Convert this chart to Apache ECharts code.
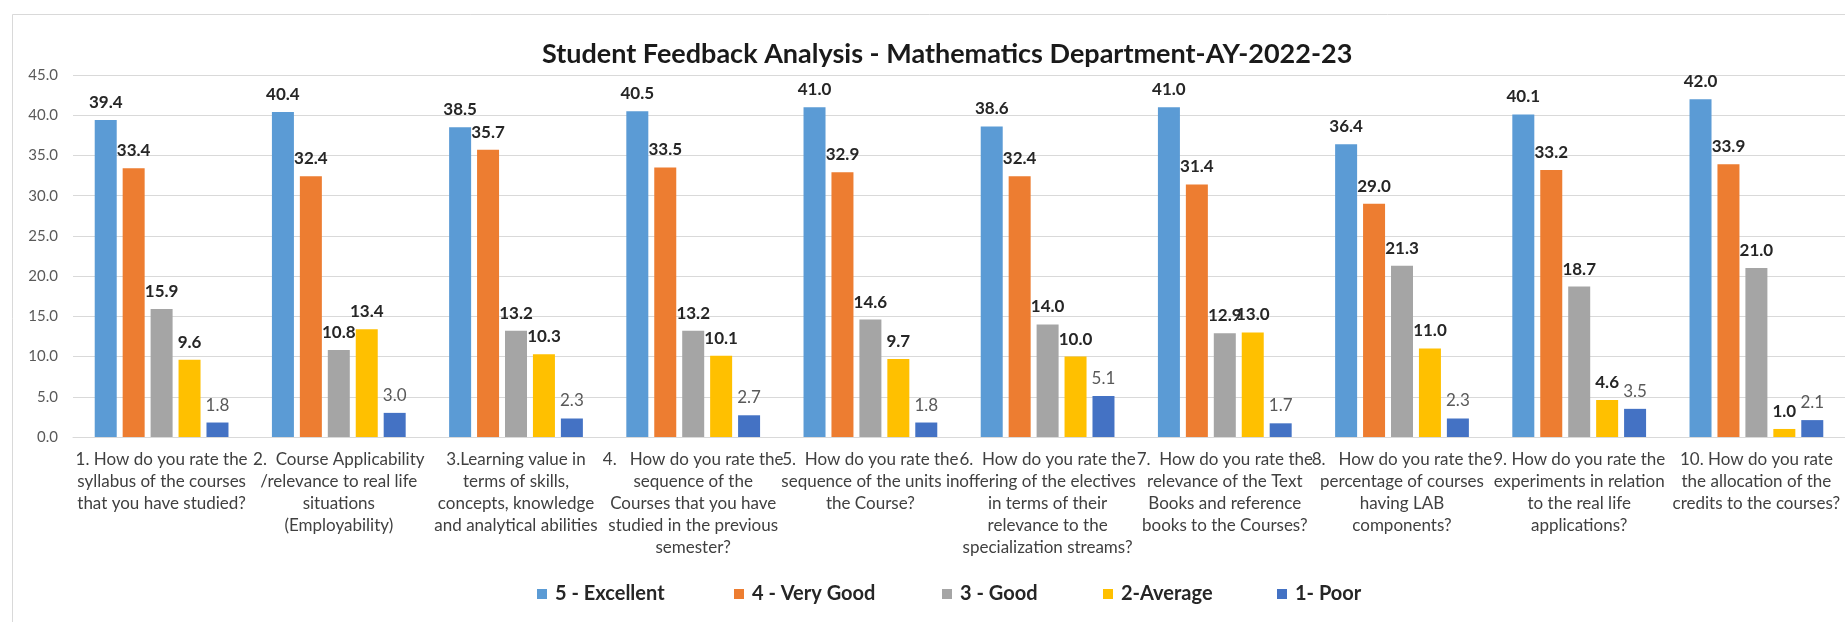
<!DOCTYPE html>
<html><head><meta charset="utf-8">
<script src="https://cdn.jsdelivr.net/npm/echarts@6/dist/echarts.min.js"></script>
<style>html,body{margin:0;padding:0;background:#fff}#c{width:1845px;height:622px}</style>
</head><body><div id="c"></div>
<script>
const categories = [
  "1. How do you rate the\nsyllabus of the courses\nthat you have studied?",
  "2.  Course Applicability\n/relevance to real life\nsituations\n(Employability)",
  "3.Learning value in\nterms of skills,\nconcepts, knowledge\nand analytical abilities",
  "4.   How do you rate the\nsequence of the\nCourses that you have\nstudied in the previous\nsemester?",
  "5.  How do you rate the\nsequence of the units in\nthe Course?",
  "6.  How do you rate the\noffering of the electives\nin terms of their\nrelevance to the\nspecialization streams?",
  "7.  How do you rate the\nrelevance of the Text\nBooks and reference\nbooks to the Courses?",
  "8.   How do you rate the\npercentage of courses\nhaving LAB\ncomponents?",
  "9. How do you rate the\nexperiments in relation\nto the real life\napplications?",
  "10. How do you rate\nthe allocation of the\ncredits to the courses?"
];
const seriesNames = ["5 - Excellent", "4 - Very Good", "3 - Good", "2-Average", "1- Poor"];
const excellent = [39.4, 40.4, 38.5, 40.5, 41.0, 38.6, 41.0, 36.4, 40.1, 42.0];
const veryGood  = [33.4, 32.4, 35.7, 33.5, 32.9, 32.4, 31.4, 29.0, 33.2, 33.9];
const good      = [15.9, 10.8, 13.2, 13.2, 14.6, 14.0, 12.9, 21.3, 18.7, 21.0];
const average   = [9.6, 13.4, 10.3, 10.1, 9.7, 10.0, 13.0, 11.0, 4.6, 1.0];
const poor      = [1.8, 3.0, 2.3, 2.7, 1.8, 5.1, 1.7, 2.3, 3.5, 2.1];
const yTicks = [0, 45, 5];

const colors = ["#5B9BD5", "#ED7D31", "#A5A5A5", "#FFC000", "#4472C4"];
const FONT = "Lato, 'Noto Sans', sans-serif";
const allData = [excellent, veryGood, good, average, poor];
const legendLeft = [537, 734, 942, 1103, 1277];

const chart = echarts.init(document.getElementById('c'), null, {renderer: 'canvas'});
chart.setOption({
  animation: false,
  backgroundColor: '#ffffff',
  color: colors,
  graphic: [{
    type: 'rect', left: 10, top: 12, silent: true, z: -1,
    shape: {width: 1900, height: 700},
    style: {fill: 'none', stroke: '#d9d9d9', lineWidth: 1}
  }],
  title: {
    text: 'Student Feedback Analysis - Mathematics Department-AY-2022-23',
    left: 537, top: 36,
    textStyle: {fontFamily: FONT, fontSize: 27, fontWeight: 'bold', color: '#1a1a1a'}
  },
  legend: seriesNames.map((n, i) => ({
    data: [n], left: legendLeft[i], top: 584, itemWidth: 10, itemHeight: 10, itemGap: 0,
    icon: 'rect', padding: 0,
    textStyle: {fontFamily: FONT, fontSize: 20, fontWeight: 'bold', color: '#262626', padding: [0, 0, 0, 3]}
  })),
  grid: {left: 73, top: 75, width: 1786, bottom: 185, containLabel: false},
  xAxis: {
    type: 'category', data: categories,
    axisTick: {show: false},
    axisLine: {lineStyle: {color: '#d9d9d9'}},
    axisLabel: {interval: 0, fontFamily: FONT, fontSize: 17, color: '#404040', lineHeight: 22, margin: 12}
  },
  yAxis: {
    type: 'value', min: yTicks[0], max: yTicks[1], interval: yTicks[2],
    axisLine: {show: false}, axisTick: {show: false},
    splitLine: {lineStyle: {color: '#d9d9d9'}},
    axisLabel: {fontFamily: FONT, fontSize: 15, color: '#595959', margin: 15,
      formatter: v => v.toFixed(1)}
  },
  series: seriesNames.map((n, i) => ({
    name: n, type: 'bar', data: allData[i],
    barWidth: 22, barGap: '27%', barCategoryGap: '25%',
    label: {
      show: true, position: 'top', distance: 9,
      formatter: p => p.value.toFixed(1),
      fontFamily: FONT, fontSize: 17,
      fontWeight: i === 4 ? 'normal' : 'bold',
      color: i === 4 ? '#595959' : '#262626'
    }
  }))
});
</script></body></html>
